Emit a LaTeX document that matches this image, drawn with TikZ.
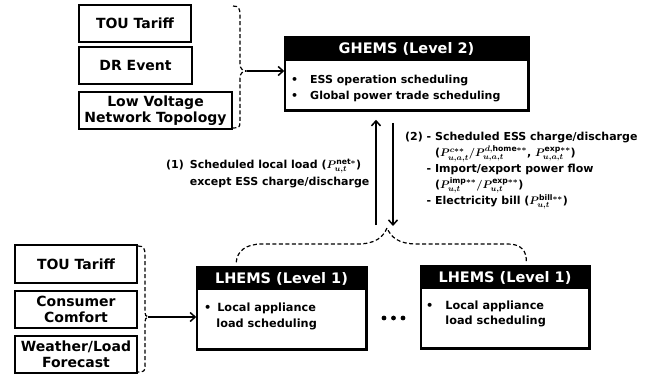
\documentclass[tikz,border=0pt]{standalone}
\usepackage{amsmath,amsbsy}
\usepackage{fontspec}
\setmainfont{DejaVu Sans}
\usetikzlibrary{arrows.meta,calc}

\tikzset{
  inbox/.style={draw, line width=1.2pt, align=center, inner sep=0pt,
    font=\bfseries\fontsize{14}{16}\selectfont},
  panel/.style={draw, line width=1.5pt, inner sep=0pt},
  header/.style={fill=black, text=white, inner sep=0pt,
    font=\bfseries\fontsize{14.5}{17}\selectfont},
  itemtext/.style={inner sep=0pt, align=left},
  brace/.style={line width=1.2pt, dash pattern=on 4pt off 2.5pt},
  flow/.style={line width=1.5pt, -{Straight Barb[length=5pt,width=9pt,line width=1.5pt]}},
  lbl/.style={inner sep=0pt, anchor=north west},
}

\begin{document}
\begin{tikzpicture}[x=1pt,y=-1pt]
\useasboundingbox (0,0) rectangle (656,378);

% ---------- upper inputs ----------
\node[inbox, minimum width=112, minimum height=37] (tou1) at (135,23.5) {TOU Tariff};
\node[inbox, minimum width=113, minimum height=37] (dr)   at (135.5,65.5) {DR Event};
\node[inbox, minimum width=153, minimum height=37] (lvn)  at (155.5,110.5) {Low Voltage\\Network Topology};

% ---------- GHEMS ----------
\node[panel, minimum width=243, minimum height=73] (g) at (406.5,73.5) {};
\node[header, minimum width=243, minimum height=25, anchor=north] (gh) at (g.north) {GHEMS (Level 2)};
\draw[line width=1.5pt] (g.north west) rectangle (g.south east);
\node[itemtext, anchor=north west, font=\bfseries\fontsize{11}{16}\selectfont] (gtxt) at (291,72.5)
  {\begin{tabular}{@{}l@{\hspace{12pt}}l@{}}\textbullet & ESS operation scheduling\\ \textbullet & Global power trade scheduling\end{tabular}};

% upper brace and arrow
\coordinate (ub) at (247,71);
\draw[brace] (233,6) .. controls (239,6) and (240,9) .. (240,15) -- (240,64)
  .. controls (240,69) and (243,71) .. (ub)
  .. controls (243,71) and (240,73) .. (240,78) -- (240,122)
  .. controls (240,127) and (239,128) .. (233,128);
\draw[flow] (ub) -- (ub -| g.west);

% ---------- LHEMS panels ----------
\node[panel, minimum width=169, minimum height=82] (l1) at (281.5,308) {};
\node[header, minimum width=169, minimum height=24, anchor=north] (l1h) at (l1.north) {LHEMS (Level 1)};
\draw[line width=1.5pt] (l1.north west) rectangle (l1.south east);
\node[itemtext, anchor=north west, font=\bfseries\fontsize{11.3}{16}\selectfont] (l1t) at (204,300)
  {\begin{tabular}{@{}l@{\hspace{5pt}}c@{}}\textbullet & Local appliance\\ & load scheduling\end{tabular}};

\node[panel, minimum width=168, minimum height=82] (l2) at (505,307) {};
\node[header, minimum width=168, minimum height=24, anchor=north] (l2h) at (l2.north) {LHEMS (Level 1)};
\draw[line width=1.5pt] (l2.north west) rectangle (l2.south east);
\node[itemtext, anchor=north west, font=\bfseries\fontsize{11.3}{15.5}\selectfont] (l2t) at (426,298)
  {\begin{tabular}{@{}l@{\hspace{12pt}}l@{}}\textbullet & Local appliance\\ & load scheduling\end{tabular}};

% ellipsis between the local panels
\foreach \dx in {384,393.5,403} \fill (\dx,318) circle (2.4pt);

% ---------- lower inputs ----------
\node[inbox, minimum width=122, minimum height=38] (tou2) at (76,264) {TOU Tariff};
\node[inbox, minimum width=122, minimum height=37] (cc)   at (76,309.5) {Consumer\\Comfort};
\node[inbox, minimum width=122, minimum height=37] (wl)   at (76,354.5) {Weather/Load\\Forecast};

\coordinate (lb) at (148,317);
\draw[brace] (138,246) .. controls (144,246) and (145,249) .. (145,255) -- (145,310)
  .. controls (145,315) and (146,317) .. (lb)
  .. controls (146,317) and (145,319) .. (145,324) -- (145,366)
  .. controls (145,371) and (144,372) .. (138,372);
\draw[flow] (lb) -- (lb -| l1.west);

% ---------- dashed bus joining the local panels ----------
\coordinate (j) at (387,228);
\draw[brace] ($(l1.north west)+(40,-4)$) .. controls (237,251) and (246,244) .. (262,244)
  -- (357,244) .. controls (376,244) and (383,237) .. (j)
  .. controls (391,237) and (398,244) .. (417,244)
  -- (508,244) .. controls (521,244) and (527,251) .. ($(l2.north west)+(106,-3)$);

% ---------- vertical flows ----------
\coordinate (upS) at (376,225);
\coordinate (dnE) at (393,226);
\draw[flow] (upS) -- ($(g.south -| upS)+(0,9)$);
\draw[flow] ($(g.south -| dnE)+(0,12)$) -- (dnE);

% ---------- flow labels ----------
\node[lbl, font=\bfseries\fontsize{11}{17}\selectfont] (lab1) at (166,156.5)
  {\begin{tabular}{@{}l@{\hspace{6pt}}l@{}}
   (1) & Scheduled local load ($\boldsymbol{P^{\mathrm{net}*}_{u,t}}$)\\
       & except ESS charge/discharge
   \end{tabular}};

\node[lbl, font=\bfseries\fontsize{11}{15.7}\selectfont] (lab2) at (405,129.5)
  {\begin{tabular}{@{}l@{\ }l@{\ }l@{}}
   (2) & - & Scheduled ESS charge/discharge\\
       &   & ($\boldsymbol{P^{c**}_{u,a,t}/P^{d,\mathrm{home}**}_{u,a,t}}$, $\boldsymbol{P^{\mathrm{exp}**}_{u,a,t}}$)\\
       & - & Import/export power flow\\
       &   & ($\boldsymbol{P^{\mathrm{imp}**}_{u,t}/P^{\mathrm{exp}**}_{u,t}}$)\\
       & - & Electricity bill ($\boldsymbol{P^{\mathrm{bill}**}_{u,t}}$)
   \end{tabular}};
\end{tikzpicture}
\end{document}
